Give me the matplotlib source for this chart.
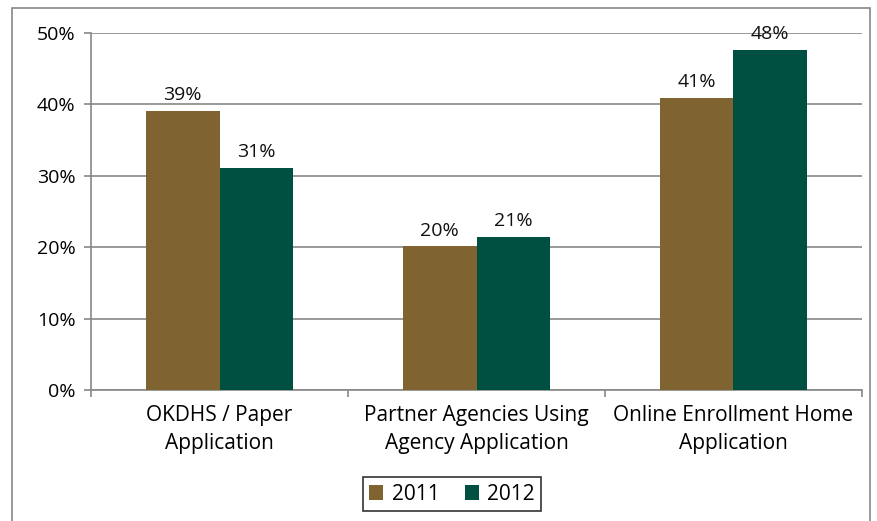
import numpy as np
import matplotlib.pyplot as plt
from matplotlib.patches import Rectangle

# Daten
categories = ['OKDHS / Paper\nApplication', 'Partner Agencies Using\nAgency Application',
              'Online Enrollment Home\nApplication']
series_names = ['2011', '2012']
values_2011 = [39.1, 20.1, 40.9]
values_2012 = [31.1, 21.4, 47.6]
labels_2011 = ['39%', '20%', '41%']
labels_2012 = ['31%', '21%', '48%']
yticks = [0, 10, 20, 30, 40, 50]

col_2011 = '#7F6431'
col_2012 = '#005042'
grey = '#888888'

plt.rcParams['font.family'] = ['Open Sans', 'DejaVu Sans']
fs = 15

fig = plt.figure(figsize=(8.77, 5.21), dpi=100)
ax = fig.add_axes([91 / 877, 1 - 390 / 521, (862 - 91) / 877, (390 - 33) / 521])

# Rahmen um die Grafik
fig.patches.append(Rectangle((12 / 877, -0.05), (870 - 12) / 877, 1.05 - 8 / 521,
                             transform=fig.transFigure, fill=False,
                             edgecolor=grey, linewidth=1.2))

x = np.arange(len(categories))
w = 0.286
b1 = ax.bar(x - w / 2, values_2011, w, color=col_2011, label=series_names[0], zorder=3)
b2 = ax.bar(x + w / 2, values_2012, w, color=col_2012, label=series_names[1], zorder=3)

for bars, labs in [(b1, labels_2011), (b2, labels_2012)]:
    for bar, lab in zip(bars, labs):
        ax.annotate(lab, (bar.get_x() + bar.get_width() / 2, bar.get_height()),
                    xytext=(0, 5), textcoords='offset points', ha='center', va='bottom',
                    fontsize=14, color='#111111', zorder=4)

ax.set_xlim(-0.5, 2.5)
ax.set_ylim(0, 50)
ax.set_yticks(yticks)
ax.set_yticklabels([f'{t}%' for t in yticks], fontsize=14)
ax.yaxis.grid(True, color=grey, linewidth=1.2, zorder=0)
ax.set_axisbelow(True)

ax.set_xticks(x)
ax.set_xticklabels(categories, fontsize=fs, linespacing=1.45)
ax.set_xticks([-0.5, 0.5, 1.5, 2.5], minor=True)
ax.tick_params(axis='x', which='major', length=0, pad=11)
ax.tick_params(axis='x', which='minor', length=5, color=grey, width=1.2)
ax.tick_params(axis='y', length=5, color=grey, width=1.2, pad=6)

for s in ['top', 'right']:
    ax.spines[s].set_visible(False)
for s in ['left', 'bottom']:
    ax.spines[s].set_color(grey)
    ax.spines[s].set_linewidth(1.2)

leg = fig.legend(loc='center', bbox_to_anchor=(452 / 877, 1 - 494 / 521), ncol=2,
                 fontsize=15, frameon=True, fancybox=False, edgecolor='black',
                 handlelength=0.7, handleheight=0.7, handletextpad=0.4, columnspacing=1.2,
                 borderpad=0.3, borderaxespad=0)
leg.get_frame().set_linewidth(1.2)

fig.savefig('out.png', dpi=100)
